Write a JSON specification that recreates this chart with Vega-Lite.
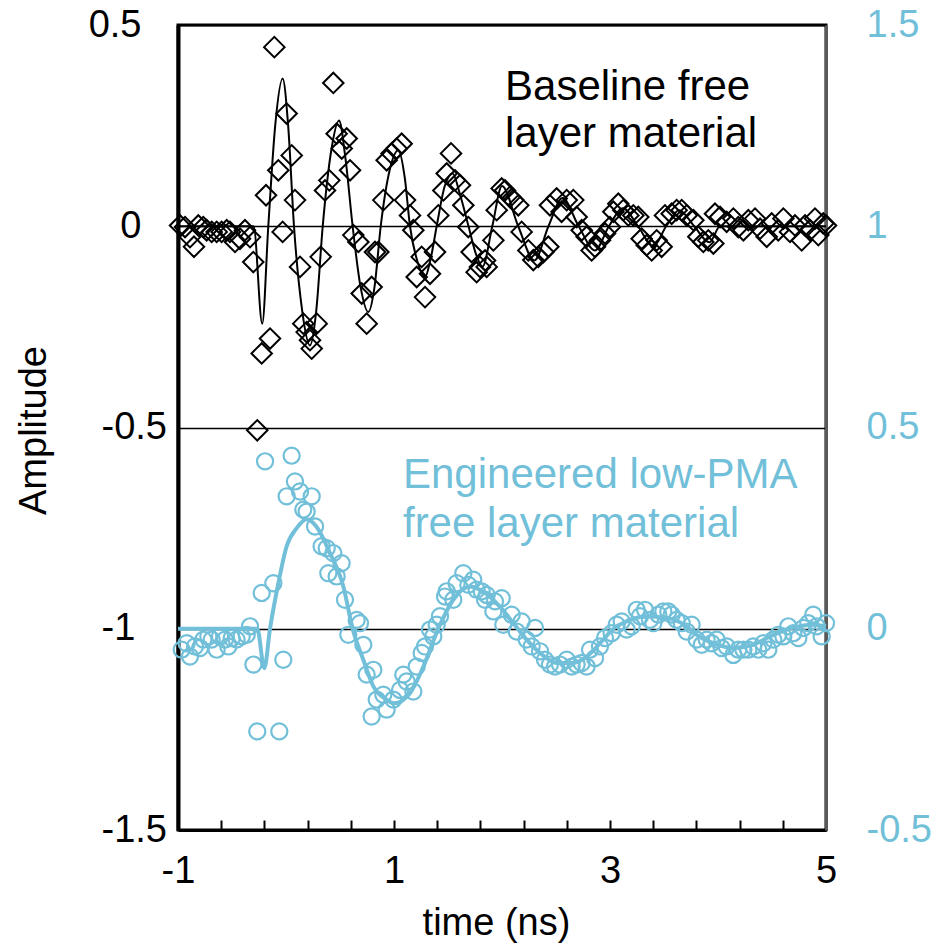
{
  "$schema": "https://vega.github.io/schema/vega-lite/v6.json",
  "width": 648,
  "height": 805,
  "autosize": {"type": "none"},
  "padding": {"left": 178, "top": 25, "right": 110, "bottom": 117},
  "background": "white",
  "config": {"font": "Liberation Sans", "view": {"stroke": "black", "strokeWidth": 3}},
  "datasets": {
    "black_pts": [
      {"t": -0.981, "a": 0.002}, {"t": -0.935, "a": -0.002}, {"t": -0.889, "a": -0.027}, {"t": -0.852, "a": -0.051},
      {"t": -0.812, "a": 0.002}, {"t": -0.766, "a": -0.002}, {"t": -0.735, "a": -0.010}, {"t": -0.688, "a": -0.014},
      {"t": -0.642, "a": -0.014}, {"t": -0.596, "a": -0.014}, {"t": -0.549, "a": -0.010}, {"t": -0.519, "a": -0.014},
      {"t": -0.472, "a": -0.039}, {"t": -0.426, "a": -0.031}, {"t": -0.380, "a": -0.010}, {"t": -0.333, "a": -0.027},
      {"t": -0.303, "a": -0.089}, {"t": -0.266, "a": -0.507}, {"t": -0.225, "a": -0.316}, {"t": -0.185, "a": 0.077},
      {"t": -0.148, "a": -0.279}, {"t": -0.108, "a": 0.445}, {"t": -0.071, "a": 0.139}, {"t": -0.031, "a": -0.014},
      {"t": 0.006, "a": 0.280}, {"t": 0.053, "a": 0.176}, {"t": 0.083, "a": 0.065}, {"t": 0.130, "a": -0.101},
      {"t": 0.160, "a": -0.242}, {"t": 0.191, "a": -0.263}, {"t": 0.222, "a": -0.283}, {"t": 0.238, "a": -0.304},
      {"t": 0.284, "a": -0.242}, {"t": 0.321, "a": -0.076}, {"t": 0.361, "a": 0.089}, {"t": 0.401, "a": 0.114},
      {"t": 0.438, "a": 0.356}, {"t": 0.469, "a": 0.230}, {"t": 0.516, "a": 0.193}, {"t": 0.562, "a": 0.218},
      {"t": 0.593, "a": 0.139}, {"t": 0.623, "a": -0.022}, {"t": 0.670, "a": -0.039}, {"t": 0.701, "a": -0.167},
      {"t": 0.747, "a": -0.242}, {"t": 0.793, "a": -0.151}, {"t": 0.824, "a": -0.064}, {"t": 0.855, "a": -0.064},
      {"t": 0.901, "a": 0.065}, {"t": 0.932, "a": 0.164}, {"t": 0.978, "a": 0.181}, {"t": 1.025, "a": 0.193},
      {"t": 1.071, "a": 0.205}, {"t": 1.102, "a": 0.065}, {"t": 1.148, "a": 0.027}, {"t": 1.179, "a": -0.010},
      {"t": 1.210, "a": -0.126}, {"t": 1.256, "a": -0.076}, {"t": 1.287, "a": -0.176}, {"t": 1.333, "a": -0.118},
      {"t": 1.380, "a": -0.064}, {"t": 1.410, "a": 0.027}, {"t": 1.457, "a": 0.089}, {"t": 1.488, "a": 0.131},
      {"t": 1.528, "a": 0.181}, {"t": 1.565, "a": 0.114}, {"t": 1.611, "a": 0.102}, {"t": 1.642, "a": 0.052},
      {"t": 1.688, "a": -0.002}, {"t": 1.719, "a": -0.064}, {"t": 1.765, "a": -0.114}, {"t": 1.796, "a": -0.101},
      {"t": 1.843, "a": -0.085}, {"t": 1.858, "a": -0.101}, {"t": 1.920, "a": -0.035}, {"t": 1.951, "a": 0.040},
      {"t": 1.997, "a": 0.094}, {"t": 2.028, "a": 0.089}, {"t": 2.074, "a": 0.073}, {"t": 2.105, "a": 0.065},
      {"t": 2.151, "a": 0.052}, {"t": 2.182, "a": -0.014}, {"t": 2.244, "a": -0.060}, {"t": 2.290, "a": -0.084},
      {"t": 2.336, "a": -0.076}, {"t": 2.383, "a": -0.064}, {"t": 2.429, "a": -0.051}, {"t": 2.444, "a": 0.052},
      {"t": 2.506, "a": 0.069}, {"t": 2.552, "a": 0.036}, {"t": 2.599, "a": 0.065}, {"t": 2.660, "a": 0.065},
      {"t": 2.691, "a": 0.023}, {"t": 2.738, "a": -0.010}, {"t": 2.784, "a": -0.026}, {"t": 2.830, "a": -0.060},
      {"t": 2.861, "a": -0.051}, {"t": 2.907, "a": -0.035}, {"t": 2.954, "a": -0.018}, {"t": 3.000, "a": -0.002},
      {"t": 3.031, "a": 0.036}, {"t": 3.077, "a": 0.056}, {"t": 3.123, "a": 0.040}, {"t": 3.170, "a": 0.027},
      {"t": 3.216, "a": 0.027}, {"t": 3.262, "a": 0.023}, {"t": 3.293, "a": -0.031}, {"t": 3.340, "a": -0.047},
      {"t": 3.386, "a": -0.060}, {"t": 3.432, "a": -0.035}, {"t": 3.478, "a": -0.051}, {"t": 3.509, "a": 0.027},
      {"t": 3.571, "a": 0.031}, {"t": 3.617, "a": 0.040}, {"t": 3.664, "a": 0.040}, {"t": 3.710, "a": 0.027},
      {"t": 3.772, "a": 0.015}, {"t": 3.818, "a": -0.026}, {"t": 3.864, "a": -0.039}, {"t": 3.910, "a": -0.035},
      {"t": 3.957, "a": -0.043}, {"t": 3.972, "a": 0.031}, {"t": 4.019, "a": 0.023}, {"t": 4.080, "a": 0.011},
      {"t": 4.142, "a": 0.019}, {"t": 4.188, "a": -0.002}, {"t": 4.235, "a": -0.010}, {"t": 4.281, "a": 0.015},
      {"t": 4.343, "a": 0.019}, {"t": 4.389, "a": -0.006}, {"t": 4.451, "a": -0.026}, {"t": 4.497, "a": 0.007},
      {"t": 4.558, "a": -0.010}, {"t": 4.605, "a": 0.019}, {"t": 4.667, "a": -0.014}, {"t": 4.713, "a": 0.002},
      {"t": 4.775, "a": -0.035}, {"t": 4.806, "a": 0.002}, {"t": 4.852, "a": -0.010}, {"t": 4.898, "a": 0.019},
      {"t": 4.929, "a": -0.022}, {"t": 4.975, "a": 0.007}, {"t": 5.000, "a": 0.002}
    ],
    "black_fit": [
      {"t": -1, "a": 0}, {"t": -0.30, "a": 0}, {"t": -0.22, "a": -0.242}, {"t": -0.164, "a": 0},
      {"t": -0.10, "a": 0.25}, {"t": -0.031, "a": 0.367}, {"t": 0.02, "a": 0.25}, {"t": 0.074, "a": 0},
      {"t": 0.15, "a": -0.21}, {"t": 0.222, "a": -0.296}, {"t": 0.28, "a": -0.21}, {"t": 0.34, "a": 0},
      {"t": 0.42, "a": 0.19}, {"t": 0.491, "a": 0.263}, {"t": 0.55, "a": 0.17}, {"t": 0.617, "a": 0},
      {"t": 0.69, "a": -0.15}, {"t": 0.762, "a": -0.213}, {"t": 0.82, "a": -0.15}, {"t": 0.877, "a": 0},
      {"t": 0.96, "a": 0.14}, {"t": 1.04, "a": 0.189}, {"t": 1.10, "a": 0.12}, {"t": 1.148, "a": 0},
      {"t": 1.22, "a": -0.09}, {"t": 1.287, "a": -0.126}, {"t": 1.34, "a": -0.08}, {"t": 1.395, "a": 0},
      {"t": 1.47, "a": 0.10}, {"t": 1.543, "a": 0.131}, {"t": 1.61, "a": 0.08}, {"t": 1.69, "a": 0},
      {"t": 1.76, "a": -0.07}, {"t": 1.82, "a": -0.10}, {"t": 1.91, "a": 0}, {"t": 2.0, "a": 0.10},
      {"t": 2.15, "a": 0}, {"t": 2.30, "a": -0.085}, {"t": 2.43, "a": 0}, {"t": 2.56, "a": 0.07},
      {"t": 2.71, "a": 0}, {"t": 2.86, "a": -0.06}, {"t": 2.99, "a": 0}, {"t": 3.12, "a": 0.045},
      {"t": 3.26, "a": 0}, {"t": 3.40, "a": -0.05}, {"t": 3.52, "a": 0}, {"t": 3.64, "a": 0.04},
      {"t": 3.78, "a": 0}, {"t": 3.92, "a": -0.04}, {"t": 4.02, "a": 0}, {"t": 5.0, "a": 0}
    ],
    "blue_pts": [
      {"t": -0.966, "a": -0.052}, {"t": -0.920, "a": -0.036}, {"t": -0.889, "a": -0.069}, {"t": -0.843, "a": -0.044},
      {"t": -0.796, "a": -0.048}, {"t": -0.765, "a": -0.027}, {"t": -0.719, "a": -0.019}, {"t": -0.688, "a": -0.027},
      {"t": -0.642, "a": -0.052}, {"t": -0.611, "a": -0.019}, {"t": -0.565, "a": -0.027}, {"t": -0.534, "a": -0.044},
      {"t": -0.503, "a": -0.023}, {"t": -0.457, "a": -0.027}, {"t": -0.410, "a": -0.019}, {"t": -0.364, "a": -0.015},
      {"t": -0.333, "a": 0.006}, {"t": -0.302, "a": -0.089}, {"t": -0.266, "a": -0.255}, {"t": -0.225, "a": 0.089},
      {"t": -0.194, "a": 0.416}, {"t": -0.117, "a": 0.113}, {"t": -0.062, "a": -0.255}, {"t": -0.025, "a": -0.077},
      {"t": 0.006, "a": 0.329}, {"t": 0.052, "a": 0.430}, {"t": 0.083, "a": 0.366}, {"t": 0.130, "a": 0.341},
      {"t": 0.160, "a": 0.296}, {"t": 0.191, "a": 0.291}, {"t": 0.238, "a": 0.329}, {"t": 0.269, "a": 0.254},
      {"t": 0.330, "a": 0.205}, {"t": 0.377, "a": 0.200}, {"t": 0.392, "a": 0.138}, {"t": 0.438, "a": 0.188},
      {"t": 0.469, "a": 0.130}, {"t": 0.515, "a": 0.163}, {"t": 0.546, "a": 0.072}, {"t": 0.577, "a": -0.015},
      {"t": 0.654, "a": 0.022}, {"t": 0.685, "a": 0.014}, {"t": 0.716, "a": -0.040}, {"t": 0.747, "a": -0.114},
      {"t": 0.793, "a": -0.218}, {"t": 0.809, "a": -0.102}, {"t": 0.840, "a": -0.176}, {"t": 0.901, "a": -0.164},
      {"t": 0.932, "a": -0.201}, {"t": 0.994, "a": -0.176}, {"t": 1.056, "a": -0.152}, {"t": 1.086, "a": -0.114},
      {"t": 1.117, "a": -0.131}, {"t": 1.179, "a": -0.156}, {"t": 1.210, "a": -0.094}, {"t": 1.256, "a": -0.060},
      {"t": 1.287, "a": -0.044}, {"t": 1.333, "a": -0.002}, {"t": 1.364, "a": -0.019}, {"t": 1.395, "a": 0.010},
      {"t": 1.426, "a": 0.031}, {"t": 1.472, "a": 0.080}, {"t": 1.488, "a": 0.093}, {"t": 1.549, "a": 0.072},
      {"t": 1.580, "a": 0.113}, {"t": 1.642, "a": 0.138}, {"t": 1.688, "a": 0.109}, {"t": 1.734, "a": 0.122},
      {"t": 1.765, "a": 0.097}, {"t": 1.812, "a": 0.093}, {"t": 1.843, "a": 0.072}, {"t": 1.858, "a": 0.084},
      {"t": 1.920, "a": 0.043}, {"t": 1.935, "a": 0.068}, {"t": 1.997, "a": 0.076}, {"t": 2.012, "a": 0.010},
      {"t": 2.090, "a": 0.035}, {"t": 2.136, "a": -0.007}, {"t": 2.182, "a": 0.018}, {"t": 2.228, "a": -0.027},
      {"t": 2.275, "a": -0.044}, {"t": 2.306, "a": 0.002}, {"t": 2.352, "a": -0.056}, {"t": 2.398, "a": -0.077},
      {"t": 2.444, "a": -0.089}, {"t": 2.491, "a": -0.094}, {"t": 2.537, "a": -0.089}, {"t": 2.599, "a": -0.077},
      {"t": 2.645, "a": -0.094}, {"t": 2.691, "a": -0.089}, {"t": 2.738, "a": -0.085}, {"t": 2.784, "a": -0.094},
      {"t": 2.815, "a": -0.052}, {"t": 2.861, "a": -0.073}, {"t": 2.907, "a": -0.044}, {"t": 2.954, "a": -0.023},
      {"t": 3.015, "a": -0.011}, {"t": 3.062, "a": 0.010}, {"t": 3.108, "a": 0.018}, {"t": 3.154, "a": -0.002},
      {"t": 3.201, "a": 0.006}, {"t": 3.247, "a": 0.047}, {"t": 3.278, "a": 0.031}, {"t": 3.324, "a": 0.047},
      {"t": 3.370, "a": 0.022}, {"t": 3.401, "a": 0.014}, {"t": 3.448, "a": 0.035}, {"t": 3.494, "a": 0.043},
      {"t": 3.540, "a": 0.043}, {"t": 3.571, "a": 0.035}, {"t": 3.617, "a": 0.022}, {"t": 3.664, "a": 0.014},
      {"t": 3.710, "a": -0.007}, {"t": 3.756, "a": 0.010}, {"t": 3.803, "a": -0.027}, {"t": 3.849, "a": -0.040},
      {"t": 3.895, "a": -0.027}, {"t": 3.941, "a": -0.036}, {"t": 3.988, "a": -0.027}, {"t": 4.034, "a": -0.048},
      {"t": 4.080, "a": -0.044}, {"t": 4.142, "a": -0.065}, {"t": 4.188, "a": -0.052}, {"t": 4.235, "a": -0.052},
      {"t": 4.281, "a": -0.052}, {"t": 4.327, "a": -0.044}, {"t": 4.373, "a": -0.052}, {"t": 4.420, "a": -0.036},
      {"t": 4.466, "a": -0.052}, {"t": 4.512, "a": -0.027}, {"t": 4.558, "a": -0.015}, {"t": 4.605, "a": -0.019},
      {"t": 4.651, "a": 0.006}, {"t": 4.697, "a": -0.011}, {"t": 4.744, "a": -0.023}, {"t": 4.790, "a": 0.002},
      {"t": 4.836, "a": 0.014}, {"t": 4.882, "a": 0.035}, {"t": 4.914, "a": 0.006}, {"t": 4.960, "a": -0.019},
      {"t": 5.000, "a": 0.014}
    ],
    "blue_fit": [
      {"t": -1, "a": 0}, {"t": -0.266, "a": 0}, {"t": -0.201, "a": -0.098}, {"t": -0.148, "a": 0},
      {"t": -0.071, "a": 0.113}, {"t": 0.006, "a": 0.205}, {"t": 0.099, "a": 0.250}, {"t": 0.191, "a": 0.272},
      {"t": 0.284, "a": 0.253}, {"t": 0.407, "a": 0.188}, {"t": 0.531, "a": 0.105}, {"t": 0.617, "a": 0},
      {"t": 0.716, "a": -0.077}, {"t": 0.809, "a": -0.143}, {"t": 0.932, "a": -0.176}, {"t": 1.0, "a": -0.185},
      {"t": 1.148, "a": -0.160}, {"t": 1.272, "a": -0.094}, {"t": 1.410, "a": 0}, {"t": 1.549, "a": 0.072},
      {"t": 1.704, "a": 0.105}, {"t": 1.796, "a": 0.097}, {"t": 1.981, "a": 0.055}, {"t": 2.105, "a": 0.014},
      {"t": 2.228, "a": -0.027}, {"t": 2.352, "a": -0.060}, {"t": 2.506, "a": -0.085}, {"t": 2.660, "a": -0.085},
      {"t": 2.784, "a": -0.069}, {"t": 2.938, "a": -0.027}, {"t": 3.031, "a": 0}, {"t": 3.154, "a": 0.018},
      {"t": 3.340, "a": 0.031}, {"t": 3.525, "a": 0.027}, {"t": 3.710, "a": 0.006}, {"t": 3.803, "a": -0.015},
      {"t": 3.957, "a": -0.036}, {"t": 4.142, "a": -0.048}, {"t": 4.327, "a": -0.040}, {"t": 4.481, "a": -0.019},
      {"t": 4.636, "a": -0.002}, {"t": 4.883, "a": 0.010}, {"t": 5.0, "a": 0.006}
    ]
  },
  "layer": [
    {
      "layer": [
        {
          "data": {"name": "black_fit"},
          "mark": {"type": "line", "color": "black", "strokeWidth": 2, "interpolate": "monotone"},
          "encoding": {
            "x": {
              "field": "t", "type": "quantitative",
              "scale": {"domain": [-1, 5], "nice": false, "zero": false},
              "axis": {
                "title": "time (ns)",
                "values": [-1, -0.6, -0.2, 0.2, 0.6, 1, 1.4, 1.8, 2.2, 2.6, 3, 3.4, 3.8, 4.2, 4.6, 5],
                "labelExpr": "(datum.value == -1 || datum.value == 1 || datum.value == 3 || datum.value == 5) ? ('' + datum.value) : ''",
                "tickSize": -10,
                "tickWidth": 2, "tickColor": "black",
                "domainColor": "black", "domainWidth": 3,
                "grid": false,
                "labelFontSize": 38, "labelColor": "black", "labelPadding": 32,
                "labelFlush": false, "labelOverlap": false,
                "titleFontSize": 38, "titleFontWeight": "normal", "titleColor": "black",
                "titleBaseline": "alphabetic", "titleY": 104, "titleX": 318
              }
            },
            "y": {
              "field": "a", "type": "quantitative",
              "scale": {"domain": [-1.5, 0.5], "nice": false, "zero": false},
              "axis": {
                "title": "Amplitude",
                "values": [-1.5, -1, -0.5, 0, 0.5],
                "labelExpr": "'' + datum.value",
                "grid": true, "gridColor": "black", "gridWidth": 1.6,
                "ticks": false,
                "domainColor": "black", "domainWidth": 4,
                "labelFontSize": 38, "labelColor": "black",
                "labelAlign": {"condition": {"test": "datum.value < 0", "value": "left"}, "value": "right"},
                "labelPadding": {"condition": {"test": "datum.value < 0", "value": 77}, "value": 37},
                "labelFlush": false, "labelOverlap": false,
                "titleFontSize": 38, "titleFontWeight": "normal", "titleColor": "black",
                "titleBaseline": "alphabetic", "titleX": -133, "titleY": 405
              }
            }
          }
        },
        {
          "data": {"name": "black_pts"},
          "mark": {"type": "point", "shape": "diamond", "filled": false, "color": "black", "strokeWidth": 2, "size": 420, "opacity": 1},
          "encoding": {
            "x": {"field": "t", "type": "quantitative", "scale": {"domain": [-1, 5], "nice": false, "zero": false}},
            "y": {"field": "a", "type": "quantitative", "scale": {"domain": [-1.5, 0.5], "nice": false, "zero": false}}
          }
        },
        {
          "data": {"values": [{}]},
          "mark": {"type": "text", "text": ["Baseline free", "layer material"], "align": "left", "baseline": "alphabetic", "fontSize": 42, "lineHeight": 47, "color": "black"},
          "encoding": {
            "x": {"datum": 2.028, "type": "quantitative", "scale": {"domain": [-1, 5], "nice": false, "zero": false}},
            "y": {"datum": 0.313, "type": "quantitative", "scale": {"domain": [-1.5, 0.5], "nice": false, "zero": false}}
          }
        }
      ]
    },
    {
      "layer": [
        {
          "data": {"name": "blue_pts"},
          "mark": {"type": "point", "shape": "circle", "filled": false, "color": "#71BFD8", "strokeWidth": 2.2, "size": 260, "opacity": 1},
          "encoding": {
            "x": {"field": "t", "type": "quantitative", "scale": {"domain": [-1, 5], "nice": false, "zero": false}},
            "y": {
              "field": "a", "type": "quantitative",
              "scale": {"domain": [-0.5, 1.5], "nice": false, "zero": false},
              "axis": {
                "orient": "right", "title": null,
                "values": [-0.5, 0, 0.5, 1, 1.5],
                "labelExpr": "'' + datum.value",
                "grid": false, "ticks": false,
                "domainColor": "#5a5a5a", "domainWidth": 3,
                "labelFontSize": 38, "labelColor": "#71BFD8", "labelPadding": 40,
                "labelFlush": false, "labelOverlap": false
              }
            }
          }
        },
        {
          "data": {"name": "blue_fit"},
          "mark": {"type": "line", "color": "#71BFD8", "strokeWidth": 4, "interpolate": "monotone"},
          "encoding": {
            "x": {"field": "t", "type": "quantitative", "scale": {"domain": [-1, 5], "nice": false, "zero": false}},
            "y": {"field": "a", "type": "quantitative", "scale": {"domain": [-0.5, 1.5], "nice": false, "zero": false}}
          }
        },
        {
          "data": {"values": [{}]},
          "mark": {"type": "text", "text": ["Engineered low-PMA", "free layer material"], "align": "left", "baseline": "alphabetic", "fontSize": 42, "lineHeight": 49, "color": "#71BFD8"},
          "encoding": {
            "x": {"datum": 1.083, "type": "quantitative", "scale": {"domain": [-1, 5], "nice": false, "zero": false}},
            "y": {"datum": 0.350, "type": "quantitative", "scale": {"domain": [-0.5, 1.5], "nice": false, "zero": false}}
          }
        }
      ]
    }
  ],
  "resolve": {"scale": {"y": "independent"}}
}
